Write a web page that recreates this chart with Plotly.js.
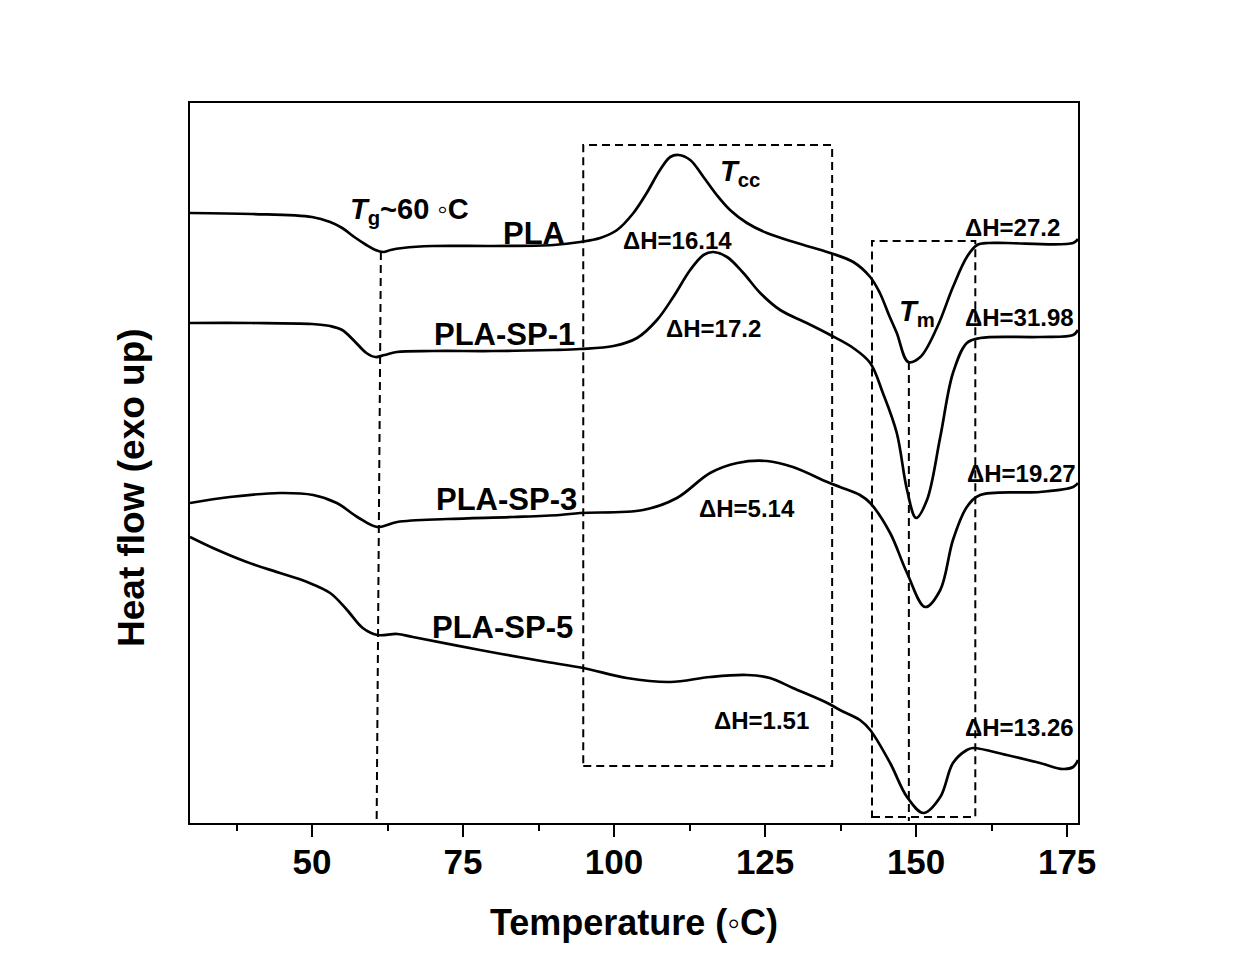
<!DOCTYPE html>
<html>
<head>
<meta charset="utf-8">
<script src="https://cdn.plot.ly/plotly-3.0.1.min.js"></script>
<style>html,body{margin:0;padding:0;background:#fff;}#chart{width:1247px;height:958px;}</style>
</head>
<body>
<div id="chart"></div>
<script>
// Temperature (°C) and heat flow (arbitrary units, exo up)
const plaT   = [29.8,40,50,53,55,57,59,60.5,61.8,63,65,70,80,90,94.4,97.7,100.5,103.2,105.4,107.6,109.3,110.7,112.6,114.8,117,119.2,122,125.3,130.3,135.8,139.6,142.4,144.0,145.5,146.8,148.7,150.7,153.5,156.1,158.4,160.1,162,165,176,176.8];
const plaHF  = [610,609,606,601,595,586,578,573,571,573,575,577,577,578,581,585,593,610,630,653,666,668,663,646,628,613,600,590,580,570,561,546,530,508,490,461,466,496,536,566,578,580,580,580,584];

const sp1T   = [29.8,40,50,53,55,57,59,60.5,62,64,70,80,90,94.4,99.9,103.8,107.1,109.8,112.6,114.8,116.4,118.7,121.4,124.2,127.5,131.9,135.8,139.6,142.4,144.5,146.8,148.5,150,151.8,154,156.1,158.4,160.6,170.5,176,176.8];
const sp1HF  = [500,500,499,497,493,482,470,466,468,471,472,472,473,474,477,485,503,526,553,568,571,566,550,530,513,500,488,475,460,430,390,333,305,323,386,450,480,485,486,488,493];

const sp3T   = [29.8,36.4,44.7,50.2,54.1,57.5,60.8,64.1,72.4,83.3,91,94.4,104.8,110.4,115.9,120.4,125.3,129.6,135.3,137.4,140.7,142.4,145.7,148.5,151.5,154,156.1,158.4,160.6,170.5,176,176.8];
const sp3HF  = [320,326,330,328,320,306,296,301,304,306,308,310,313,325,350,360,362,356,341,336,328,320,290,250,216,233,283,316,328,331,336,340];

const sp5T   = [29.8,33.6,39.2,44.7,49.2,53,55.8,58.4,60.8,64.1,66.7,77.8,88.9,94.9,102.1,109.3,115.9,122,125.8,129.6,135.3,137.4,140.7,142.4,145.7,148.5,151.2,154,156.1,158.4,159.4,165,170.5,174.3,176,176.8];
const sp5HF  = [286,275,261,250,241,230,213,195,188,189,186,173,161,155,145,141,146,148,145,135,120,113,103,93,60,26,10,26,60,73,75,68,60,54,56,63];

const xTickVals = [50,75,100,125,150,175];
const xMinorVals = [37.5,62.5,87.5,112.5,137.5,162.5];

const FONT = 'Arial, "Liberation Sans", sans-serif';
function curve(x, y) {
  return {x: x, y: y, type: 'scatter', mode: 'lines',
    line: {color: '#000', width: 2.7, shape: 'spline', smoothing: 1.0},
    hoverinfo: 'skip', showlegend: false};
}
const traces = [curve(plaT, plaHF), curve(sp1T, sp1HF), curve(sp3T, sp3HF), curve(sp5T, sp5HF)];

const dashLine = {color: '#000', width: 2, dash: '8px,5px'};
const shapes = [
  {type: 'line', xref: 'x', yref: 'y', x0: 61.4, y0: 571, x1: 60.7, y1: 3, line: dashLine},
  {type: 'rect', xref: 'x', yref: 'y', x0: 94.9, y0: 57, x1: 136.1, y1: 678, line: dashLine},
  {type: 'rect', xref: 'x', yref: 'y', x0: 142.7, y0: 6, x1: 159.8, y1: 582, line: dashLine},
  {type: 'line', xref: 'x', yref: 'y', x0: 148.8, y0: 461, x1: 148.8, y1: 2, line: dashLine}
];

function ann(x, y, text, size) {
  return {x: x, y: y, xref: 'x', yref: 'y', text: text, showarrow: false,
    xanchor: 'center', yanchor: 'middle',
    font: {family: FONT, size: size, color: '#000', weight: 'bold'}};
}
const annotations = [
  ann(66.06, 612, '<i>T</i><sub>g</sub>~60 \u25E6C', 29),
  ann(86.75, 590, 'PLA', 31),
  ann(120.86, 650, '<i>T</i><sub>cc</sub>', 29),
  ann(110.43, 583, '\u0394H=16.14', 24),
  ann(116.39, 495, '\u0394H=17.2', 24),
  ann(165.89, 596, '\u0394H=27.2', 24),
  ann(167.05, 506, '\u0394H=31.98', 24),
  ann(150.17, 510, '<i>T</i><sub>m</sub>', 29),
  ann(167.38, 350, '\u0394H=19.27', 24),
  ann(167.05, 96, '\u0394H=13.26', 24),
  ann(122.02, 315, '\u0394H=5.14', 24),
  ann(124.34, 103, '\u0394H=1.51', 24),
  ann(81.79, 489, 'PLA-SP-1', 31),
  ann(82.12, 324, 'PLA-SP-3', 31),
  ann(81.46, 196, 'PLA-SP-5', 31),
  {x: -0.0653, y: 0.4653, xref: 'paper', yref: 'paper', text: 'Heat flow (exo up)', textangle: -90,
   showarrow: false, xanchor: 'center', yanchor: 'middle',
   font: {family: FONT, size: 37, color: '#000', weight: 'bold'}}
];

const layout = {
  width: 1247, height: 958,
  margin: {l: 190, r: 169, t: 103, b: 135, pad: 0},
  paper_bgcolor: '#fff', plot_bgcolor: '#fff',
  font: {family: FONT, color: '#000'},
  showlegend: false,
  xaxis: {
    range: [29.8, 176.8], tickvals: xTickVals, ticktext: xTickVals.map(String),
    ticks: 'outside', ticklen: 12, tickwidth: 2, tickcolor: '#000', ticklabelstandoff: -5,
    showline: true, linewidth: 2, linecolor: '#000', mirror: true,
    showgrid: false, zeroline: false,
    tickfont: {family: FONT, size: 35, weight: 'bold', color: '#000'},
    minor: {tickvals: xMinorVals, ticks: 'outside', ticklen: 6, tickwidth: 2, tickcolor: '#000', showgrid: false},
    title: {text: 'Temperature (\u25E6C)', standoff: 30, font: {family: FONT, size: 36, weight: 'bold', color: '#000'}}
  },
  yaxis: {
    range: [0, 720], showticklabels: false, ticks: '',
    showline: true, linewidth: 2, linecolor: '#000', mirror: true,
    showgrid: false, zeroline: false
  },
  shapes: shapes,
  annotations: annotations
};

Plotly.newPlot('chart', traces, layout, {staticPlot: true, displayModeBar: false});
</script>
</body>
</html>
